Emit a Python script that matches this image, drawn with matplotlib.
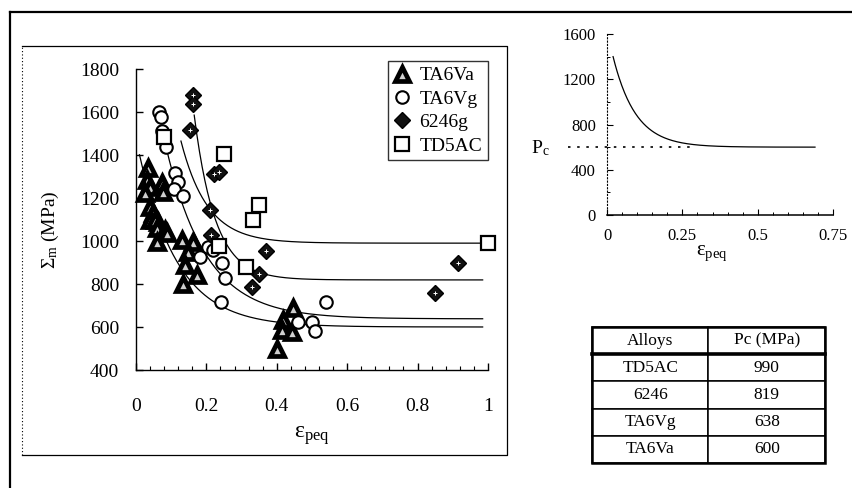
import numpy as np
import matplotlib
matplotlib.use("Agg")
import matplotlib.pyplot as plt
from matplotlib.lines import Line2D
from matplotlib.patches import Rectangle
from matplotlib.ticker import MultipleLocator, FuncFormatter

plt.rcParams["font.family"] = ["Liberation Serif", "DejaVu Serif"]
plt.rcParams["mathtext.fontset"] = "custom"
plt.rcParams["mathtext.rm"] = "Liberation Serif"
plt.rcParams["mathtext.it"] = "Liberation Serif:italic"

# measured points (eps_peq, Sigma_m in MPa)
ta6va_eps = [0.035, 0.030, 0.040, 0.026, 0.073, 0.078, 0.040, 0.049, 0.040, 0.063,
             0.054, 0.059, 0.082, 0.087, 0.059, 0.130, 0.163, 0.149, 0.139, 0.172,
             0.134, 0.447, 0.418, 0.414, 0.442, 0.400]
ta6va_sig = [1338, 1284, 1253, 1222, 1268, 1229, 1160, 1129, 1098, 1090,
             1098, 1060, 1051, 1037, 995, 1005, 997, 950, 888, 842,
             800, 687, 633, 586, 578, 500]

ta6vg_eps = [0.066, 0.070, 0.073, 0.085, 0.111, 0.120, 0.108, 0.134, 0.182, 0.205,
             0.220, 0.243, 0.253, 0.241, 0.461, 0.499, 0.509, 0.540]
ta6vg_sig = [1600, 1578, 1512, 1439, 1318, 1276, 1240, 1210, 927, 974,
             960, 900, 830, 715, 622, 622, 580, 715]

a6246_eps = [0.161, 0.161, 0.153, 0.222, 0.237, 0.210, 0.212, 0.369, 0.350, 0.329,
             0.849, 0.916]
a6246_sig = [1680, 1636, 1518, 1310, 1320, 1145, 1030, 955, 848, 787, 757, 900]

td5ac_eps = [0.080, 0.251, 0.350, 0.333, 0.237, 0.314, 1.0]
td5ac_sig = [1485, 1405, 1167, 1100, 975, 877, 990]

# fitted curves: start point, decay constant and plateau (table values)
alloys = ["TD5AC", "6246", "TA6Vg", "TA6Va"]
pc_values = [990, 819, 638, 600]
curve_x0 = [0.127, 0.163, 0.085, 0.0095]
curve_y0 = [1470, 1617, 1440, 1405]
curve_tau = [0.075, 0.06, 0.115, 0.11]
curve_xend = 0.985

# generic Pc(eps) law for the small inset
law_x0, law_y0, law_pc, law_tau, law_xend = 0.02, 1400, 600, 0.075, 0.69


def decay(x, x0, y0, pc, tau):
    return pc + (y0 - pc) * np.exp(-(x - x0) / tau)


fig = plt.figure(figsize=(8.52, 4.88), dpi=100)

# frame lines of the page and the panel box
ft = fig.transFigure
fig.add_artist(Line2D([0.0117, 0.0117], [0.0, 0.975], transform=ft, color="k", lw=1.6))
fig.add_artist(Line2D([0.0117, 1.0], [0.975, 0.975], transform=ft, color="k", lw=1.6))
fig.add_artist(Line2D([0.0258, 0.595, 0.595, 0.0258], [0.9057, 0.9057, 0.0676, 0.0676],
                      transform=ft, color="k", lw=0.9))
fig.add_artist(Line2D([0.0258, 0.0258], [0.0676, 0.9057], transform=ft, color="k",
                      lw=0.8, ls=(0, (1, 2))))

# main plot
ax = fig.add_axes([0.1596, 0.2418, 0.4131, 0.6168])
ax.set_xlim(0, 1)
ax.set_ylim(400, 1800)
for s in ("top", "right"):
    ax.spines[s].set_visible(False)
for s in ("left", "bottom"):
    ax.spines[s].set_linewidth(1.0)
ax.xaxis.set_major_locator(MultipleLocator(0.2))
ax.xaxis.set_minor_locator(MultipleLocator(0.04))
ax.yaxis.set_major_locator(MultipleLocator(200))
ax.xaxis.set_major_formatter(FuncFormatter(lambda v, p: f"{v:g}"))
ax.tick_params(axis="both", which="major", direction="in", length=5, width=1,
               labelsize=14)
ax.tick_params(axis="x", which="minor", direction="in", length=3, width=0.8)
ax.tick_params(axis="x", pad=20)
ax.tick_params(axis="y", pad=12)

xs = np.linspace(0, 1, 400)
for x0, y0, pc, tau in zip(curve_x0, curve_y0, pc_values, curve_tau):
    xx = xs[(xs >= x0) & (xs <= curve_xend)]
    ax.plot(xx, decay(xx, x0, y0, pc, tau), color="k", lw=0.9, zorder=2)

ax.plot(ta6va_eps, ta6va_sig, ls="none", marker="^", ms=10, mfc="#cfcfcf", mec="k",
        mew=3.4, clip_on=False, zorder=3, label="TA6Va")
ax.plot(ta6vg_eps, ta6vg_sig, ls="none", marker="o", ms=9, mfc="white", mec="k",
        mew=1.5, clip_on=False, zorder=3, label="TA6Vg")
ax.plot(a6246_eps, a6246_sig, ls="none", marker="D", ms=8, mfc="#111111", mec="k",
        mew=1.0, clip_on=False, zorder=3, label="6246g")
ax.plot(a6246_eps, a6246_sig, ls="none", marker="+", ms=3, mec="white", mew=0.7,
        clip_on=False, zorder=4)
ax.plot(td5ac_eps, td5ac_sig, ls="none", marker="s", ms=10, mfc="white", mec="k",
        mew=1.6, clip_on=False, zorder=3, label="TD5AC")

leg = ax.legend(loc="upper right", bbox_to_anchor=(1.0, 1.027), borderaxespad=0,
                fontsize=14, frameon=True, fancybox=False, handlelength=0.8,
                handletextpad=0.5, labelspacing=0.3, borderpad=0.3)
leg.get_frame().set_edgecolor("k")
leg.get_frame().set_linewidth(1.0)

fig.text(0.366, 0.108, r"$\mathregular{\varepsilon_{peq}}$", fontsize=17,
         ha="center", va="center")
fig.text(0.059, 0.529, r"$\mathregular{\Sigma_{m}}$ (MPa)", fontsize=14,
         ha="center", va="center", rotation=90)

# inset: Pc as a function of eps_peq
ins = fig.add_axes([0.7125, 0.5594, 0.2653, 0.3709])
ins.set_xlim(0, 0.75)
ins.set_ylim(0, 1600)
for s in ("top", "right"):
    ins.spines[s].set_visible(False)
ins.spines["left"].set_linestyle((0, (1, 2)))
ins.spines["left"].set_linewidth(0.8)
ins.spines["bottom"].set_linewidth(1.1)
ins.xaxis.set_major_locator(MultipleLocator(0.25))
ins.xaxis.set_minor_locator(MultipleLocator(0.05))
ins.yaxis.set_major_locator(MultipleLocator(400))
ins.yaxis.set_minor_locator(MultipleLocator(200))
ins.xaxis.set_major_formatter(FuncFormatter(lambda v, p: f"{v:g}"))
ins.tick_params(axis="both", which="major", direction="in", length=4, width=0.8,
                labelsize=12)
ins.tick_params(axis="both", which="minor", direction="in", length=2.5, width=0.7)
ins.tick_params(axis="x", pad=9)
ins.tick_params(axis="y", pad=8)

lx = np.linspace(law_x0, law_xend, 300)
ins.plot(lx, decay(lx, law_x0, law_y0, law_pc, law_tau), color="k", lw=0.9)
ins.plot([-0.13, 0.29], [law_pc, law_pc], color="k", lw=1.2, ls=(0, (1.5, 4)),
         clip_on=False)
fig.text(0.634, 0.697, r"$\mathregular{P_c}$", fontsize=14, ha="center", va="center")
fig.text(0.8357, 0.4816, r"$\mathregular{\varepsilon_{peq}}$", fontsize=15,
         ha="center", va="center")

# table of plateau values
tax = fig.add_axes([0.6948, 0.0512, 0.2735, 0.2787])
tax.axis("off")
cells = [[a, str(p)] for a, p in zip(alloys, pc_values)]
tbl = tax.table(cellText=cells, colLabels=["Alloys", "Pc (MPa)"], cellLoc="center",
                bbox=[0, 0, 1, 1])
tbl.auto_set_font_size(False)
tbl.set_fontsize(12.5)
for cell in tbl.get_celld().values():
    cell.set_linewidth(1.1)
    cell.set_edgecolor("k")
tax.add_artist(Line2D([0, 1], [0.8, 0.8], transform=tax.transAxes, color="k", lw=2.6,
                      clip_on=False))
tax.add_patch(Rectangle((0, 0), 1, 1, transform=tax.transAxes, fill=False, lw=1.8,
                        ec="k", clip_on=False))

fig.savefig("out.png", dpi=100)
